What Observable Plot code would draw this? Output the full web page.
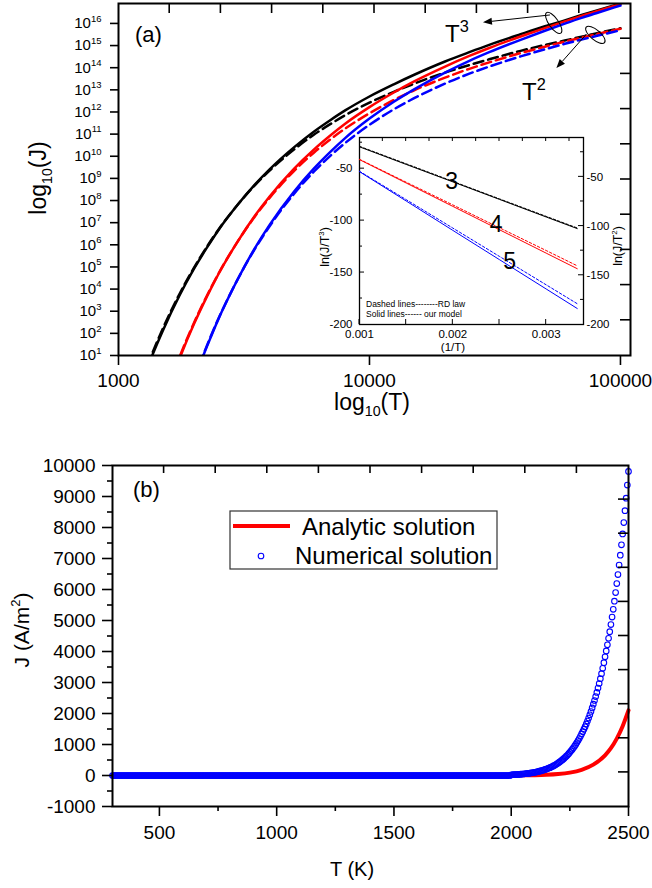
<!DOCTYPE html>
<html>
<head>
<meta charset="utf-8">
<script src="https://cdn.jsdelivr.net/npm/d3@7"></script>
<script src="https://cdn.jsdelivr.net/npm/@observablehq/plot@0.6"></script>
<style>
  html,body{margin:0;padding:0;background:#fff;}
  #fig{position:relative;width:652px;height:888px;overflow:hidden;background:#fff;}
  #fig > svg{position:absolute;}
</style>
</head>
<body>
<div id="fig"></div>
<script>
// ---------------- DATA ----------------
// Panel (a): log10(J) versus T
const blackT = [1300,1350,1500,1750,2000,2250,2500,3000,3500,4000,5000,6000,7000,8000,10000,12500,15000,20000,25000,30000,40000,50000,60000,70000,80000,100000];
const blackSolid  = [0.43,0.89,2.11,3.71,4.92,5.87,6.66,7.84,8.73,9.41,10.40,11.11,11.64,12.07,12.70,13.25,13.67,14.28,14.70,15.03,15.51,15.87,16.14,16.38,16.58,16.90];
const blackDashed = [0.53,0.99,2.20,3.78,4.97,5.91,6.68,7.84,8.70,9.35,10.30,10.97,11.46,11.85,12.42,12.91,13.27,13.78,14.12,14.38,14.76,15.03,15.23,15.40,15.55,15.78];
const redT = [1600,1750,2000,2250,2500,3000,3500,4000,5000,6000,7000,8000,10000,12500,15000,20000,25000,30000,40000,50000,60000,70000,80000,100000];
const redSolid  = [-0.31,0.86,2.43,3.66,4.67,6.19,7.32,8.18,9.43,10.30,10.95,11.47,12.22,12.88,13.37,14.05,14.53,14.89,15.41,15.79,16.09,16.34,16.54,16.88];
const redDashed = [-0.23,0.93,2.48,3.70,4.69,6.19,7.29,8.12,9.33,10.16,10.77,11.25,11.94,12.54,12.97,13.55,13.95,14.24,14.66,14.95,15.18,15.36,15.51,15.76];
const blueT = [2000,2150,2250,2500,2750,3000,3500,4000,5000,6000,7000,8000,10000,12500,15000,20000,25000,30000,40000,50000,60000,70000,80000,100000];
const blueSolid  = [-0.11,0.84,1.40,2.64,3.64,4.49,5.86,6.90,8.40,9.44,10.21,10.82,11.70,12.46,13.01,13.78,14.31,14.70,15.26,15.67,15.99,16.25,16.46,16.81];
const blueDashed = [-0.06,0.88,1.44,2.66,3.65,4.49,5.83,6.84,8.30,9.30,10.03,10.60,11.42,12.12,12.61,13.28,13.73,14.05,14.51,14.83,15.08,15.27,15.43,15.69];
const xTicksA = [1000, 10000, 100000];
const yExpA = [1,2,3,4,5,6,7,8,9,10,11,12,13,14,15,16];

// Inset: ln(J/T^3) versus 1/T
const insetX = [0.001, 0.0015, 0.002, 0.0025, 0.003, 0.003333];
const inBlackSolid  = [-29.0,-45.9,-62.7,-79.6,-96.5,-107.7];
const inBlackDashed = [-28.5,-45.3,-62.2,-79.1,-95.9,-107.1];
const inRedSolid    = [-41.3,-63.8,-86.3,-108.8,-131.3,-146.3];
const inRedDashed   = [-41.0,-63.0,-84.9,-106.9,-128.8,-143.5];
const inBlueSolid   = [-52.9,-81.1,-109.4,-137.6,-165.8,-184.6];
const inBlueDashed  = [-52.5,-79.8,-107.2,-134.5,-161.8,-180.0];
const inLabels = [{t:"3", x:0.001986, y:-62.0}, {t:"4", x:0.002463, y:-103.8}, {t:"5", x:0.002608, y:-139.9}];
const inXTicks = [0.001, 0.002, 0.003];
const inLeftTicks = [-200, -150, -100, -50];
const inRightTicks = [-200, -150, -100, -50];
const inNotes = ["Dashed lines--------RD law", "Solid lines------ our model"];

// Panel (b): J versus T
const anaT = [300,1000,1500,1800,2000,2050,2100,2150,2200,2250,2300,2350,2400,2425,2450,2475,2500];
const anaJ = [0,0,0,0,2,5,10,22,46,93,184,350,650,880,1190,1590,2100];
const numFlat = {from:300, to:1995, step:5, J:0};       // circles lying on J = 0
const numRiseT = d3.range(2000, 2501, 5);                 // sampling grid of the circles
const numRiseJ = [22,24,26,28,30,33,36,39,42,45,
  49,53,57,61,66,71,77,83,89,96,
  104,112,120,128,138,148,158,170,182,195,
  208,223,238,254,272,290,310,331,354,378,
  403,429,456,486,517,550,585,623,662,705,
  750,795,842,893,946,1002,1062,1126,1193,1264,
  1340,1414,1493,1576,1663,1755,1853,1956,2064,2179,
  2300,2420,2547,2680,2820,2968,3123,3286,3458,3639,
  3830,4018,4216,4424,4641,4870,5109,5361,5624,5901,
  6190,6482,6787,7107,7442,7792,8159,8544,8946,9368,
  9809];
const xMajorB = [500,1000,1500,2000,2500];
const xMinorB = [750,1250,1750,2250];
const yMajorB = [-1000,0,1000,2000,3000,4000,5000,6000,7000,8000,9000,10000];
const yMinorB = [-500,500,1500,2500,3500,4500,5500,6500,7500,8500,9500];
const legendLabels = ["Analytic solution", "Numerical solution"];

// ---------------- HELPERS ----------------
const FONT = '"Liberation Sans", Arial, Helvetica, sans-serif';
const fig = document.getElementById("fig");
const toRows = (T, V) => T.map((t, i) => ({T: t, J: 10 ** V[i]}));
const inRows = V => insetX.map((x, i) => ({x, y: V[i]}));

function rich(svg, x, y, size, parts, opts = {}) {
  const {anchor = "start", rotate = 0, subScale = 0.62} = opts;
  const t = d3.select(svg).append("text")
    .attr("transform", `translate(${x},${y}) rotate(${rotate})`)
    .attr("text-anchor", anchor).attr("font-size", size).attr("fill", "#000");
  let shift = 0;
  for (const [s, m] of parts) {
    const target = m === "sup" ? -0.42 * size : m === "sub" ? 0.28 * size : 0;
    const ts = t.append("tspan").attr("dy", target - shift).text(s);
    shift = target;
    if (m !== "n") ts.attr("font-size", size * subScale);
  }
  return t;
}
function tick(svg, x1, y1, x2, y2, w = 1.6) {
  d3.select(svg).append("line").attr("x1", x1).attr("y1", y1).attr("x2", x2).attr("y2", y2)
    .attr("stroke", "#000").attr("stroke-width", w);
}
function arrow(svg, x1, y1, x2, y2) {
  const a = Math.atan2(y2 - y1, x2 - x1), L = 9, W = 3.5;
  const bx = x2 - L * Math.cos(a), by = y2 - L * Math.sin(a);
  const px = -Math.sin(a) * W, py = Math.cos(a) * W;
  const g = d3.select(svg);
  g.append("line").attr("x1", x1).attr("y1", y1).attr("x2", bx).attr("y2", by).attr("stroke", "#000").attr("stroke-width", 1);
  g.append("path").attr("d", `M${x2},${y2}L${bx + px},${by + py}L${bx - px},${by - py}Z`).attr("fill", "#000");
}

// ---------------- PANEL (a) ----------------
const ls = {x: "T", y: "J", strokeWidth: 2.5, clip: true, curve: "monotone-x"};
const dash = {strokeDasharray: "10,5"};
const plotA = Plot.plot({
  width: 652, height: 430, marginLeft: 118, marginRight: 22, marginTop: 3, marginBottom: 75,
  style: {fontFamily: FONT, background: "transparent", color: "#000"},
  x: {type: "log", domain: [1000, 10 ** 5.04]},
  y: {type: "log", domain: [10, 10 ** 16.9]},
  marks: [
    Plot.line(toRows(blackT, blackSolid), {...ls, stroke: "#000"}),
    Plot.line(toRows(blackT, blackDashed), {...ls, ...dash, stroke: "#000"}),
    Plot.line(toRows(redT, redSolid), {...ls, stroke: "#ff0000"}),
    Plot.line(toRows(redT, redDashed), {...ls, ...dash, stroke: "#ff0000"}),
    Plot.line(toRows(blueT, blueSolid), {...ls, stroke: "#0000ff"}),
    Plot.line(toRows(blueT, blueDashed), {...ls, ...dash, stroke: "#0000ff"}),
    Plot.frame({stroke: "#000", strokeWidth: 2}),
    Plot.axisX({ticks: xTicksA, tickFormat: d => String(d), tickSize: 10, tickPadding: 8, fontSize: 19, strokeWidth: 1.6, label: null}),
    Plot.axisY({ticks: yExpA.map(e => 10 ** e), tickFormat: d => "10^" + Math.round(Math.log10(d)), tickSize: 8, tickPadding: 9, fontSize: 15, strokeWidth: 1.6, label: null})
  ]
});
plotA.style.left = "0px"; plotA.style.top = "0px";
fig.appendChild(plotA);
{
  d3.select(plotA).selectAll('g[aria-label="y-axis tick label"] text').each(function () {
    const s = this.textContent; if (!s.includes("^")) return;
    const [b, e] = s.split("^");
    const t = d3.select(this); t.text(null);
    t.append("tspan").text(b);
    t.append("tspan").attr("dy", -6.5).attr("font-size", 9.5).text(e);
  });
  const sx = plotA.scale("x"), sy = plotA.scale("y");
  const [xl, xr] = sx.range, [yb, yt] = sy.range;
  for (let k = 1; k < 10; k++) { const x = xl + (xr - xl) * k / 10; tick(plotA, x, yt, x, yt + 10); }
  for (let k = 1; k < 10; k++) { const y = yt + (yb - yt) * k / 10; tick(plotA, xr, y, xr - 10, y); }
  rich(plotA, 135, 42, 22, [["(a)", "n"]]);
  rich(plotA, 46, 178, 23, [["log", "n"], ["10", "sub"], ["(J)", "n"]], {anchor: "middle", rotate: -90});
  rich(plotA, 372, 410, 23, [["log", "n"], ["10", "sub"], ["(T)", "n"]], {anchor: "middle"});
  // T^3 / T^2 annotations (placed in data coordinates)
  const P = (T, J) => [sx.apply(T), sy.apply(J)];
  const [t3x, t3y] = P(20100, 1.38e15), [t2x, t2y] = P(40700, 3.3e12);
  rich(plotA, t3x, t3y, 24, [["T", "n"], ["3", "sup"]], {subScale: 0.68});
  rich(plotA, t2x, t2y, 24, [["T", "n"], ["2", "sup"]], {subScale: 0.68});
  const a1s = P(52600, 10 ** 16.36), a1e = P(28450, 10 ** 16.03);
  const a2s = P(73600, 10 ** 15.5), a2e = P(55800, 10 ** 13.96);
  arrow(plotA, a1s[0], a1s[1], a1e[0], a1e[1]);
  arrow(plotA, a2s[0], a2s[1], a2e[0], a2e[1]);
  const e1 = P(54450, 1e16), e2 = P(79800, 10 ** 15.46);
  d3.select(plotA).append("ellipse").attr("cx", 0).attr("cy", 0).attr("rx", 12.5).attr("ry", 4.8)
    .attr("transform", `translate(${e1[0]},${e1[1]}) rotate(55)`).attr("fill", "none").attr("stroke", "#000").attr("stroke-width", 1);
  d3.select(plotA).append("ellipse").attr("cx", 0).attr("cy", 0).attr("rx", 12).attr("ry", 5)
    .attr("transform", `translate(${e2[0]},${e2[1]}) rotate(40)`).attr("fill", "none").attr("stroke", "#000").attr("stroke-width", 1);
}

// ---------------- INSET ----------------
const rConv = v => -200 + (v + 200) * (180 / 190);
const rInv = u => Math.round((u + 200) * 190 / 180 - 200);
const thin = {x: "x", y: "y", strokeWidth: 1};
const dot = {strokeDasharray: "2.5,2"};
const inset = Plot.plot({
  width: 330, height: 230, marginLeft: 59, marginRight: 47, marginTop: 7, marginBottom: 36,
  style: {fontFamily: FONT, background: "transparent", color: "#000"},
  x: {domain: [0.001, 0.0034]},
  y: {domain: [-200, -20]},
  marks: [
    Plot.frame({fill: "white", stroke: "#000", strokeWidth: 1.3}),
    Plot.line(inRows(inBlackSolid), {...thin, stroke: "#000"}),
    Plot.line(inRows(inBlackDashed), {...thin, ...dot, stroke: "#000"}),
    Plot.line(inRows(inRedSolid), {...thin, stroke: "#ff0000"}),
    Plot.line(inRows(inRedDashed), {...thin, ...dot, stroke: "#ff0000"}),
    Plot.line(inRows(inBlueSolid), {...thin, stroke: "#0000ff"}),
    Plot.line(inRows(inBlueDashed), {...thin, ...dot, stroke: "#0000ff"}),
    Plot.text(inLabels, {x: "x", y: "y", text: "t", fontSize: 23, textAnchor: "middle", lineAnchor: "middle", fill: "#000"}),
    Plot.axisX({ticks: inXTicks, tickFormat: d3.format(".3f"), tickSize: 0, tickPadding: 5, fontSize: 11.5, label: null}),
    Plot.axisY({ticks: inLeftTicks, tickFormat: d => String(d), tickSize: 0, tickPadding: 7, fontSize: 11.5, label: null}),
    Plot.axisY({anchor: "right", ticks: inRightTicks.map(rConv), tickFormat: u => String(rInv(u)), tickSize: 0, tickPadding: 3, fontSize: 11.5, label: null})
  ]
});
inset.style.left = "300px"; inset.style.top = "130px";
fig.appendChild(inset);
{
  const sx = inset.scale("x"), sy = inset.scale("y");
  const [xl, xr] = sx.range, [yb, yt] = sy.range;
  for (let v = 0.001; v <= 0.00301; v += 0.0005) { const x = sx.apply(v); tick(inset, x, yb, x, yb - 5, 1); }
  for (let v = 0.00125; v <= 0.00331; v += 0.00025) { const x = sx.apply(v); tick(inset, x, yt, x, yt + 4, 1); }
  for (let v = -175; v <= -25; v += 25) { const y = sy.apply(v); tick(inset, xl, y, xl + (v % 50 === 0 ? 5 : 3), y, 1); }
  for (let v = -175; v <= -25; v += 25) { const y = sy.apply(rConv(v)); tick(inset, xr, y, xr - (v % 50 === 0 ? 5 : 3), y, 1); }
  rich(inset, 29, 117, 12.5, [["ln(J/T", "n"], ["3", "sup"], [")", "n"]], {anchor: "middle", rotate: -90});
  rich(inset, 322, 116, 12.5, [["ln(J/T", "n"], ["2", "sup"], [")", "n"]], {anchor: "middle", rotate: -90});
  rich(inset, 153, 221, 11.5, [["(1/T)", "n"]], {anchor: "middle"});
  rich(inset, 66, 177, 8.5, [[inNotes[0], "n"]]);
  rich(inset, 66, 187, 8.5, [[inNotes[1], "n"]]);
}

// ---------------- PANEL (b) ----------------
const anaRows = anaT.map((t, i) => ({T: t, J: anaJ[i]}));
const numRows = d3.range(numFlat.from, numFlat.to + 1, numFlat.step).map(t => ({T: t, J: numFlat.J}))
  .concat(numRiseT.map((t, i) => ({T: t, J: numRiseJ[i]})));
const plotB = Plot.plot({
  width: 652, height: 458, marginLeft: 112, marginRight: 24, marginTop: 35, marginBottom: 82,
  style: {fontFamily: FONT, background: "transparent", color: "#000"},
  x: {domain: [300, 2500]},
  y: {domain: [-1000, 10000]},
  marks: [
    Plot.line(anaRows, {x: "T", y: "J", stroke: "#ff0000", strokeWidth: 4, curve: "monotone-x"}),
    Plot.dot(numRows, {x: "T", y: "J", r: 2.8, stroke: "#0000ff", strokeWidth: 1.1, fill: "none"}),
    Plot.frame({stroke: "#000", strokeWidth: 2}),
    Plot.axisX({ticks: xMajorB, tickFormat: d => String(d), tickSize: 10, tickPadding: 9, fontSize: 19, strokeWidth: 1.6, label: null}),
    Plot.axisX({ticks: xMinorB, tickFormat: () => "", tickSize: 5, strokeWidth: 1.6, label: null}),
    Plot.axisY({ticks: yMajorB, tickFormat: d => String(d), tickSize: 10, tickPadding: 7, fontSize: 19, strokeWidth: 1.6, label: null}),
    Plot.axisY({ticks: yMinorB, tickFormat: () => "", tickSize: 5, strokeWidth: 1.6, label: null})
  ]
});
plotB.style.left = "0px"; plotB.style.top = "430px";
fig.appendChild(plotB);
{
  const sx = plotB.scale("x"), sy = plotB.scale("y");
  const [xl, xr] = sx.range, [yb, yt] = sy.range;
  for (let k = 1; k < 10; k++) { const x = xl + (xr - xl) * k / 10; tick(plotB, x, yt, x, yt + 8); }
  for (let k = 1; k < 10; k++) { const y = yt + (yb - yt) * k / 10; tick(plotB, xr, y, xr - 10, y); }
  rich(plotB, 133, 67, 22, [["(b)", "n"]]);
  rich(plotB, 352, 446, 20, [["T (K)", "n"]], {anchor: "middle"});
  rich(plotB, 29, 200, 21, [["J (A/m", "n"], ["2", "sup"], [")", "n"]], {anchor: "middle", rotate: -90});
  const g = d3.select(plotB);
  g.append("rect").attr("x", 230).attr("y", 81).attr("width", 267).attr("height", 58)
    .attr("fill", "white").attr("stroke", "#333").attr("stroke-width", 1.2);
  g.append("line").attr("x1", 233).attr("x2", 290).attr("y1", 96).attr("y2", 96)
    .attr("stroke", "#ff0000").attr("stroke-width", 4);
  g.append("circle").attr("cx", 261).attr("cy", 126).attr("r", 2.8)
    .attr("fill", "none").attr("stroke", "#0000ff").attr("stroke-width", 1.1);
  rich(plotB, 302, 105, 24, [[legendLabels[0], "n"]]);
  rich(plotB, 295, 134, 24, [[legendLabels[1], "n"]]);
}
</script>
</body>
</html>
